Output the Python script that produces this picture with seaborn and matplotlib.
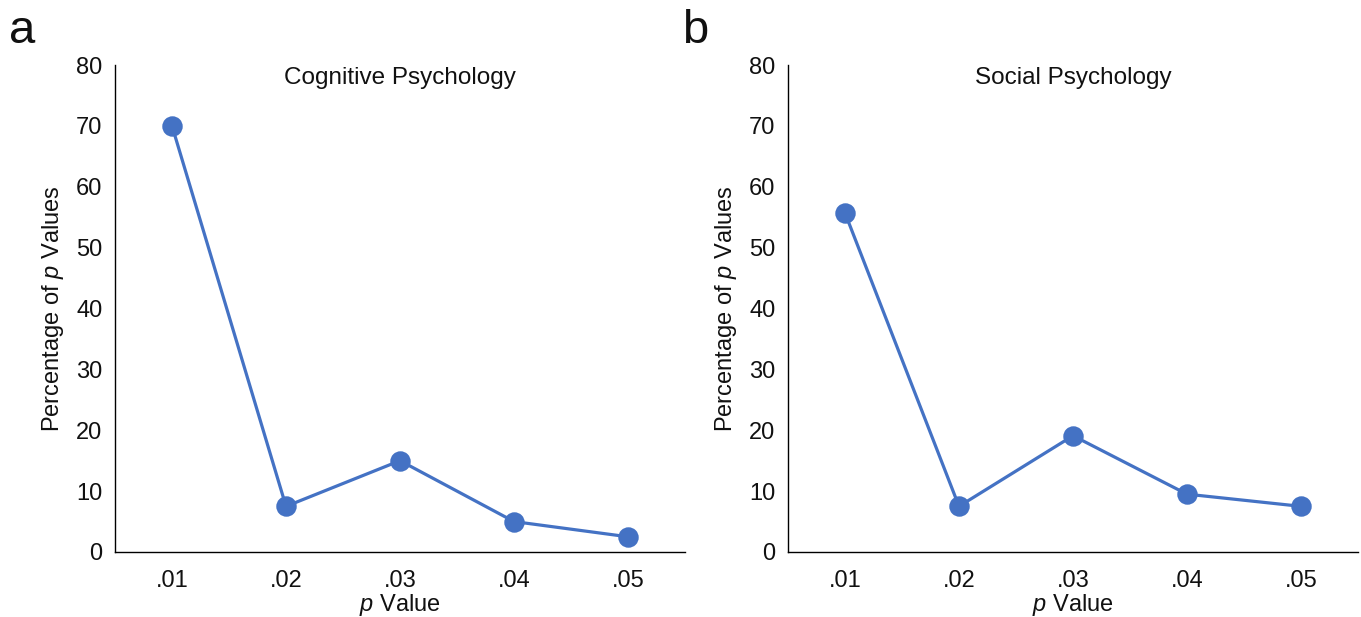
import matplotlib
matplotlib.use('Agg')
import matplotlib.pyplot as plt
from matplotlib import font_manager
import seaborn as sns
import pandas as pd

# データ
p_labels = ['.01', '.02', '.03', '.04', '.05']
cognitive = [70, 7.5, 15, 5, 2.5]
social = [55.7, 7.5, 19.1, 9.5, 7.5]
panels = [('a', 'Cognitive Psychology', cognitive), ('b', 'Social Psychology', social)]

sns.set_style('white')

# 細めのフォントがあれば使う
names = {f.name for f in font_manager.fontManager.ttflist}
font = 'Liberation Sans Narrow' if 'Liberation Sans Narrow' in names else 'Liberation Sans'
plt.rcParams['font.family'] = [font, 'DejaVu Sans']
plt.rcParams['mathtext.fontset'] = 'custom'
plt.rcParams['mathtext.it'] = font + ':italic'
plt.rcParams['mathtext.rm'] = font

blue = '#4472C4'

fig = plt.figure(figsize=(13.61, 6.17), dpi=100)
lefts = [115 / 1361, 788 / 1361]

for left, (letter, title, values) in zip(lefts, panels):
    ax = fig.add_axes([left, 65 / 617, 570 / 1361, 487 / 617])
    df = pd.DataFrame({'p': p_labels, 'pct': values})
    sns.pointplot(data=df, x='p', y='pct', order=p_labels, color=blue,
                  markersize=13, linewidth=2.3, ax=ax)
    ax.set_xlim(-0.5, 4.5)
    ax.set_ylim(0, 80)
    ax.set_yticks(range(0, 81, 10))
    sns.despine(ax=ax)
    for s in ['left', 'bottom']:
        ax.spines[s].set_color('black')
        ax.spines[s].set_linewidth(1.0)
    ax.tick_params(axis='both', length=0, labelsize=17, colors='#111111')
    ax.tick_params(axis='x', pad=13)
    ax.tick_params(axis='y', pad=9)
    ax.set_xlabel(r'$\it{p}$ Value', fontsize=17, labelpad=0, color='#111111')
    ax.set_ylabel(r'Percentage of $\it{p}$ Values', fontsize=17, labelpad=7,
                  color='#111111')
    ax.text(0.5, 0.995, title, transform=ax.transAxes, ha='center', va='top',
            fontsize=17.5, color='#111111')
    fig.text(left - 0.068, 0.95, letter, fontsize=34, ha='center', va='center',
             color='#111111')

fig.savefig('out.png', dpi=100)
